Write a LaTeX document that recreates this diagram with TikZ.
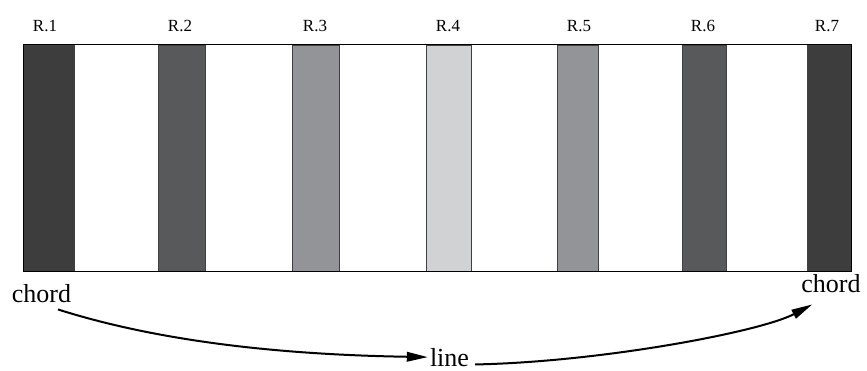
\documentclass[tikz,border=0pt]{standalone}
\usepackage{fontspec}
\setmainfont{Liberation Serif}
\usetikzlibrary{arrows.meta}
\definecolor{barA}{HTML}{3D3D3D}
\definecolor{barB}{HTML}{58595B}
\definecolor{barC}{HTML}{929497}
\definecolor{barD}{HTML}{D1D2D4}
\tikzset{
  bar/.style={draw=black!75, line width=0.8pt},
  rlabel/.style={font=\fontsize{17}{20}\selectfont, anchor=base, inner sep=0pt},
  biglabel/.style={font=\fontsize{26}{30}\selectfont, anchor=base, inner sep=2pt},
  curvearrow/.style={line width=2pt, -{Triangle[length=21pt,width=9.5pt]}}
}
\begin{document}
\begin{tikzpicture}[x=1pt,y=1pt]
\useasboundingbox (0,0) rectangle (867,370);
% bars
\fill[barA] (23,99) rectangle (74,325);  \draw[bar] (23,99) rectangle (74,325);
\fill[barB] (158,99) rectangle (205,325); \draw[bar] (158,99) rectangle (205,325);
\fill[barC] (292,99) rectangle (339,325); \draw[bar] (292,99) rectangle (339,325);
\fill[barD] (426,99) rectangle (471,325); \draw[bar] (426,99) rectangle (471,325);
\fill[barC] (557,99) rectangle (598,325); \draw[bar] (557,99) rectangle (598,325);
\fill[barB] (682,99) rectangle (726,325); \draw[bar] (682,99) rectangle (726,325);
\fill[barA] (807,99) rectangle (851,325); \draw[bar] (807,99) rectangle (851,325);
% outer frame
\draw[line width=1pt] (23,99) rectangle (851,325);
% labels
\node[rlabel] (r1) at (45,338) {R.1};
\node[rlabel] (r2) at (180,338) {R.2};
\node[rlabel] (r3) at (315,338) {R.3};
\node[rlabel] (r4) at (448,338) {R.4};
\node[rlabel] (r5) at (579,338) {R.5};
\node[rlabel] (r6) at (703,338) {R.6};
\node[rlabel] (r7) at (827,338) {R.7};
\node[biglabel] (chordL) at (41.5,68) {chord};
\node[biglabel] (chordR) at (831,78) {chord};
\node[biglabel] (lineN) at (449.5,4) {line};
% arrows
\draw[curvearrow] ([shift={(16.5pt,-5pt)}]chordL.south) .. controls (170,25) and (300,15) .. (lineN.west);
\draw[curvearrow] ([shift={(4pt,4pt)}]lineN.south east) .. controls (600,8) and (760,38) .. ([shift={(13pt,-10pt)}]chordR.south west);
\end{tikzpicture}
\end{document}
